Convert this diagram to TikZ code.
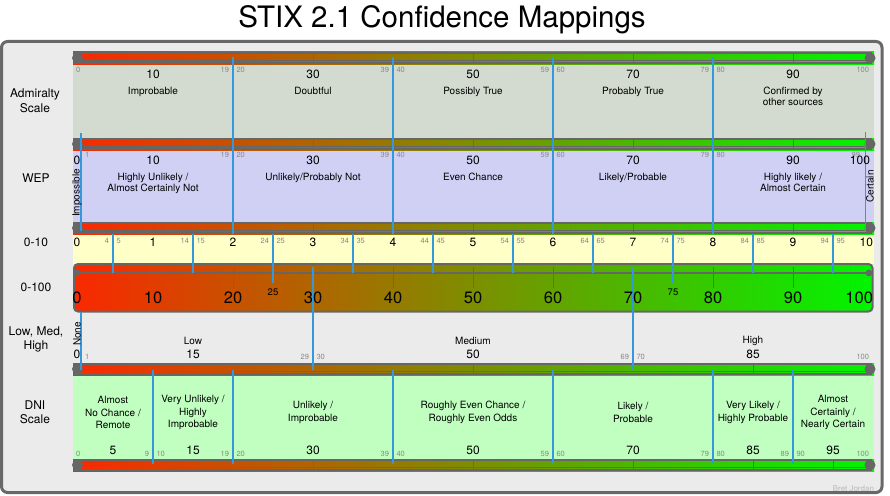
\documentclass[tikz,border=0pt]{standalone}
\usepackage{fontspec}
\setmainfont{TeX Gyre Heros}
\definecolor{panelbg}{HTML}{EBEBEB}
\definecolor{frame}{HTML}{686868}
\definecolor{barline}{HTML}{666666}
\definecolor{barred}{RGB}{250,40,0}
\definecolor{barmid}{RGB}{158,140,0}
\definecolor{bargreen}{RGB}{0,245,0}
\definecolor{admfill}{RGB}{211,219,208}
\definecolor{wepfill}{RGB}{208,208,245}
\definecolor{tenfill}{RGB}{255,255,200}
\definecolor{dnifill}{RGB}{192,255,192}
\definecolor{blueln}{RGB}{52,152,219}
\definecolor{smgray}{RGB}{135,135,135}
\definecolor{credgray}{RGB}{185,185,185}
\tikzset{
  x=1pt, y=-1pt,
  every node/.style={inner sep=0pt, outer sep=0pt},
  rowlab/.style={font=\fontsize{12}{14.5}\selectfont, align=center},
  num/.style={font=\fontsize{12}{14}\selectfont},
  bignum/.style={font=\fontsize{16.5}{18}\selectfont},
  desc/.style={font=\fontsize{10}{11.3}\selectfont, align=center},
  dnidesc/.style={font=\fontsize{10}{12.6}\selectfont, align=center},
  small/.style={font=\fontsize{7.5}{9}\selectfont, text=smgray},
  rotlab/.style={font=\fontsize{10}{12}\selectfont, rotate=90},
  bline/.style={draw=blueln, line width=1.1},
  bartick/.style={draw=barline, line width=0.6},
}
\newcommand{\slidebar}[2]{%
  \shade[left color=barred, middle color=barmid, right color=bargreen] (73,#1) rectangle (874,#1+12);
  \foreach \tk in {#2} \draw[bartick] ({73+8*\tk},#1) -- ({73+8*\tk},#1+12);
  \draw[barline, line width=2] (73,#1+1) -- (872,#1+1) (73,#1+11) -- (872,#1+11);
  \draw[barline, line width=0.9] (73,#1+8.5) -- (872,#1+8.5);
  \fill[barline] (77.5,#1+6) circle (5.5) (870,#1+6) circle (5.5);
}
\begin{document}
\begin{tikzpicture}
\useasboundingbox (0,0) rectangle (890,495);
\node[font=\fontsize{29.5}{32}\selectfont] (title) at (442,19.5) {STIX 2.1 Confidence Mappings};
\draw[frame, line width=3, fill=panelbg, rounded corners=6] (1.5,41.5) rectangle (882,492.5);
% panels
\fill[admfill] (73,64) rectangle (874,138);
\fill[wepfill] (73,150) rectangle (874,222);
\fill[tenfill] (73,234) rectangle (874,264);
\fill[dnifill] (73,375) rectangle (874,459);
% bars
\slidebar{52}{10,30,50,70,90}
\slidebar{138}{10,30,50,70,90}
\slidebar{222}{10,20,...,90}
\slidebar{363}{15,50,85}
\slidebar{459}{5,15,30,50,70,85,95}
% big 0-100 bar
\draw[barline, line width=2, rounded corners=4, left color=barred, middle color=barmid, right color=bargreen] (74,264) rectangle (872.5,311.5);
\foreach \v in {10,20,...,90} \draw[barline, line width=0.9] ({73+8*\v},267) -- ({73+8*\v},288);
\draw[barline, line width=1.2] (77,273) -- (869,273);
\fill[barline] (77,273) circle (3.4) (869,273) circle (3.4);
% blue boundary lines
\foreach \b in {20,40,60,80} \draw[bline] ({73+8*\b},57) -- ({73+8*\b},234);
\draw[bline] (81,133) -- (81,231);
\draw[bline] (865.5,132) -- (865.5,231);
\foreach \k in {0,1,3,4,5,6,8,9} \draw[bline] ({113+80*\k},234) -- ({113+80*\k},273);
\foreach \k in {2,7} \draw[bline] ({113+80*\k},234) -- ({113+80*\k},283);
\draw[bline] (81,312) -- (81,370);
\draw[bline] (313,267) -- (313,370);
\draw[bline] (633,267) -- (633,370);
\foreach \b in {10,20,40,60,80,90} \draw[bline] ({73+8*\b},370) -- ({73+8*\b},464);
% row labels
\node[rowlab] (lAdm) at (35,100.5) {Admiralty\\Scale};
\node[rowlab] (lWep) at (36,178) {WEP};
\node[rowlab] (lTen) at (36,242) {0-10};
\node[rowlab] (lHun) at (36,287) {0-100};
\node[rowlab, font=\fontsize{12}{14}\selectfont] (lLmh) at (36,339.5) {Low, Med,\\High};
\node[rowlab, font=\fontsize{12}{13.5}\selectfont] (lDni) at (35,412) {DNI\\Scale};
% Admiralty
\node[small, anchor=west] (as0) at (76,70) {0};
\foreach \b/\a in {20/19,40/39,60/59,80/79} {
  \node[small, anchor=east] (asa\a) at ({73+8*\b-4},70) {\a};
  \node[small, anchor=west] (asb\b) at ({73+8*\b+3.5},70) {\b};
}
\node[small, anchor=east] (as100) at (869,70) {100};
\foreach \v/\txt in {10/Improbable,30/Doubtful,50/Possibly True,70/Probably True,90/{Confirmed by\\other sources}} {
  \node[num] (an\v) at ({73+8*\v},74.5) {\v};
  \node[desc, anchor=north] (ad\v) at ({73+8*\v},86.8) {\txt};
}
% WEP
\node[num] (wn0) at (77,160) {0};
\node[small, anchor=west] (ws1) at (85,155) {1};
\foreach \b/\a in {20/19,40/39,60/59,80/79} {
  \node[small, anchor=east] (wsa\a) at ({73+8*\b-4},155) {\a};
  \node[small, anchor=west] (wsb\b) at ({73+8*\b+3.5},155) {\b};
}
\node[small, anchor=east] (ws99) at (860,155) {99};
\node[num, anchor=east] (wn100) at (870,160) {100};
\foreach \v/\txt in {10/{Highly Unlikely /\\Almost Certainly Not},30/{Unlikely/Probably Not},50/{Even Chance},70/{Likely/Probable},90/{Highly likely /\\Almost Certain}} {
  \node[num] (wn\v) at ({73+8*\v},160) {\v};
  \node[desc, anchor=north] (wd\v) at ({73+8*\v},173.3) {\txt};
}
\node[rotlab] (wimp) at (77,193) {Impossible};
\node[rotlab] (wcert) at (870,186.5) {Certain};
% 0-10
\node[num] (tn0) at (77,242) {0};
\foreach \k in {1,...,9} \node[num] (tn\k) at ({73+80*\k},242) {\k};
\node[num, anchor=east] (tn10) at (873,242) {10};
\foreach \k [evaluate=\k as \lo using int(10*\k+4), evaluate=\k as \hi using int(10*\k+5)] in {0,...,9} {
  \node[small, anchor=east] (tsa\k) at ({113+80*\k-4},240.5) {\lo};
  \node[small, anchor=west] (tsb\k) at ({113+80*\k+3.5},240.5) {\hi};
}
% 0-100
\node[bignum] (hn0) at (77,298) {0};
\foreach \k [evaluate=\k as \val using int(10*\k)] in {1,...,9} \node[bignum] (hn\k) at ({73+80*\k},298) {\val};
\node[bignum, anchor=east] (hn10) at (873,298) {100};
\node[font=\fontsize{9.5}{11}\selectfont] (h25) at (273,292.5) {25};
\node[font=\fontsize{9.5}{11}\selectfont] (h75) at (673,292.5) {75};
% Low Med High
\node[rotlab] (lnone) at (77,334) {None};
\node[num] (ln0) at (77,354) {0};
\node[small, anchor=west] (ls1) at (85,357) {1};
\node[small, anchor=east] (ls29) at (309,357) {29};
\node[small, anchor=west] (ls30) at (316.5,357) {30};
\node[small, anchor=east] (ls69) at (629,357) {69};
\node[small, anchor=west] (ls70) at (636.5,357) {70};
\node[small, anchor=east] (ls100) at (869,357) {100};
\foreach \v/\txt in {15/Low,50/Medium,85/High} {
  \node[desc] (ld\v) at ({73+8*\v},341) {\txt};
  \node[num] (ln\v) at ({73+8*\v},354) {\v};
}
% DNI
\node[small, anchor=west] (ds0) at (76,454.3) {0};
\foreach \b/\a in {10/9,20/19,40/39,60/59,80/79,90/89} {
  \node[small, anchor=east] (dsa\a) at ({73+8*\b-4},454.3) {\a};
  \node[small, anchor=west] (dsb\b) at ({73+8*\b+3.5},454.3) {\b};
}
\node[small, anchor=east] (ds100) at (869,454.3) {100};
\foreach \v/\txt in {5/{Almost\\No Chance /\\Remote},15/{Very Unlikely /\\Highly\\Improbable},30/{Unlikely /\\Improbable},50/{Roughly Even Chance /\\Roughly Even Odds},70/{Likely /\\Probable},85/{Very Likely /\\Highly Probable},95/{Almost\\Certainly /\\Nearly Certain}} {
  \node[dnidesc] (dd\v) at ({73+8*\v},412.5) {\txt};
  \node[num] (dn\v) at ({73+8*\v},450) {\v};
}
\node[font=\fontsize{8}{9}\selectfont, text=credgray, anchor=east] (credit) at (874,489) {Bret Jordan};
\end{tikzpicture}
\end{document}
